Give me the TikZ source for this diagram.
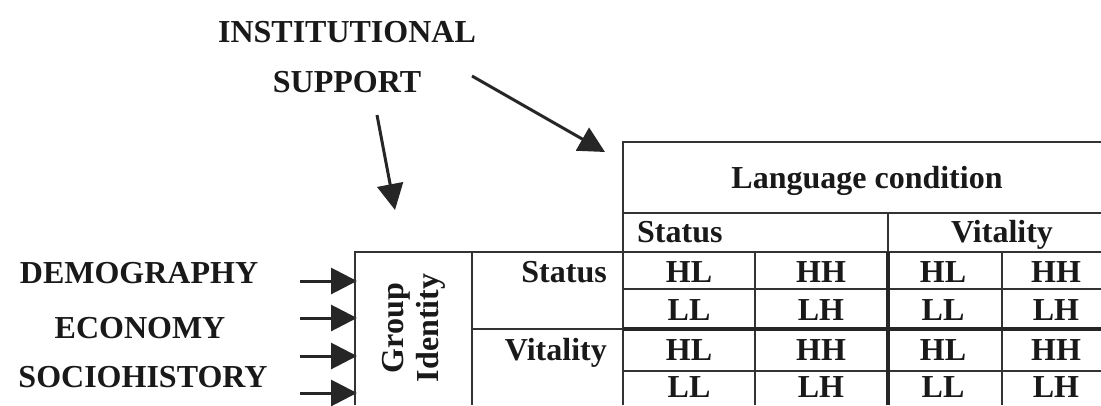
\documentclass[tikz,border=0pt]{standalone}
\usepackage{fontspec}
\setmainfont{Liberation Serif}
\usetikzlibrary{arrows.meta}
\begin{document}
\begin{tikzpicture}[x={(1pt,0)},y={(0,-1pt)},
  txt/.style={inner sep=0pt,font=\bfseries\fontsize{32}{36}\selectfont,text=black!90},
  thin/.style={line width=1.5pt,black!80},
  thick/.style={line width=4pt,black!85},
  arr/.style={line width=3pt,black!85,-{Triangle[length=26pt,width=26pt]}}]
\useasboundingbox (0,0) rectangle (1101,405);
% top labels
\node[txt,anchor=base] (inst) at (347,42) {INSTITUTIONAL};
\node[txt,anchor=base] (supp) at (347,92) {SUPPORT};
\coordinate (a1s) at (377,115); \coordinate (a1e) at (395,210);
\coordinate (a2s) at (472,76);  \coordinate (a2e) at (605,152);
\draw[arr] (a1s) -- (a1e);
\draw[arr] (a2s) -- (a2e);
% left labels
\node[txt,anchor=base] (demo) at (139,283) {DEMOGRAPHY};
\node[txt,anchor=base] (econ) at (140,338) {ECONOMY};
\node[txt,anchor=base] (soc) at (143,387) {SOCIOHISTORY};
\foreach \i/\yy in {1/281,2/318,3/356,4/393}{
  \coordinate (ls\i) at (300,\yy); \coordinate (le\i) at (357,\yy);
  \draw[arr] (ls\i) -- (le\i);
}
% table lines
\draw[thin] (1101,142) -- (623,142) -- (623,405);
\draw[thin] (623,213) -- (1101,213);
\draw[thin] (888,213) -- (888,252);
\draw[thin] (355,405) -- (355,252) -- (1101,252);
\draw[thin] (472,252) -- (472,405);
\draw[thin] (472,329) -- (623,329);
\draw[thin] (623,289) -- (1101,289);
\draw[thin] (623,371) -- (1101,371);
\draw[thin] (755,252) -- (755,405);
\draw[thin] (1002,252) -- (1002,405);
\draw[thick] (888,252) -- (888,405);
\draw[thick] (623,329) -- (1101,329);
% header texts
\node[txt,anchor=base] (lc) at (867,188) {Language condition};
\node[txt,anchor=base west] (hs) at (637,242) {Status};
\node[txt,anchor=base] (hv) at (1002,242) {Vitality};
% group identity
\node[txt,rotate=90,align=center,font=\bfseries\fontsize{32}{35}\selectfont] (gi) at (414,328) {Group\\Identity};
% row labels
\node[txt,anchor=base east] (rs) at (607,282) {Status};
\node[txt,anchor=base east] (rv) at (607,360) {Vitality};
% cells
\foreach \r/\yy/\a/\b in {1/282/HL/HH,2/320/LL/LH,3/360/HL/HH,4/397/LL/LH}{
  \node[txt,anchor=base] (c\r a) at (689,\yy) {\a};
  \node[txt,anchor=base] (c\r b) at (821,\yy) {\b};
  \node[txt,anchor=base] (c\r c) at (943,\yy) {\a};
  \node[txt,anchor=base] (c\r d) at (1056,\yy) {\b};
}
\end{tikzpicture}
\end{document}
